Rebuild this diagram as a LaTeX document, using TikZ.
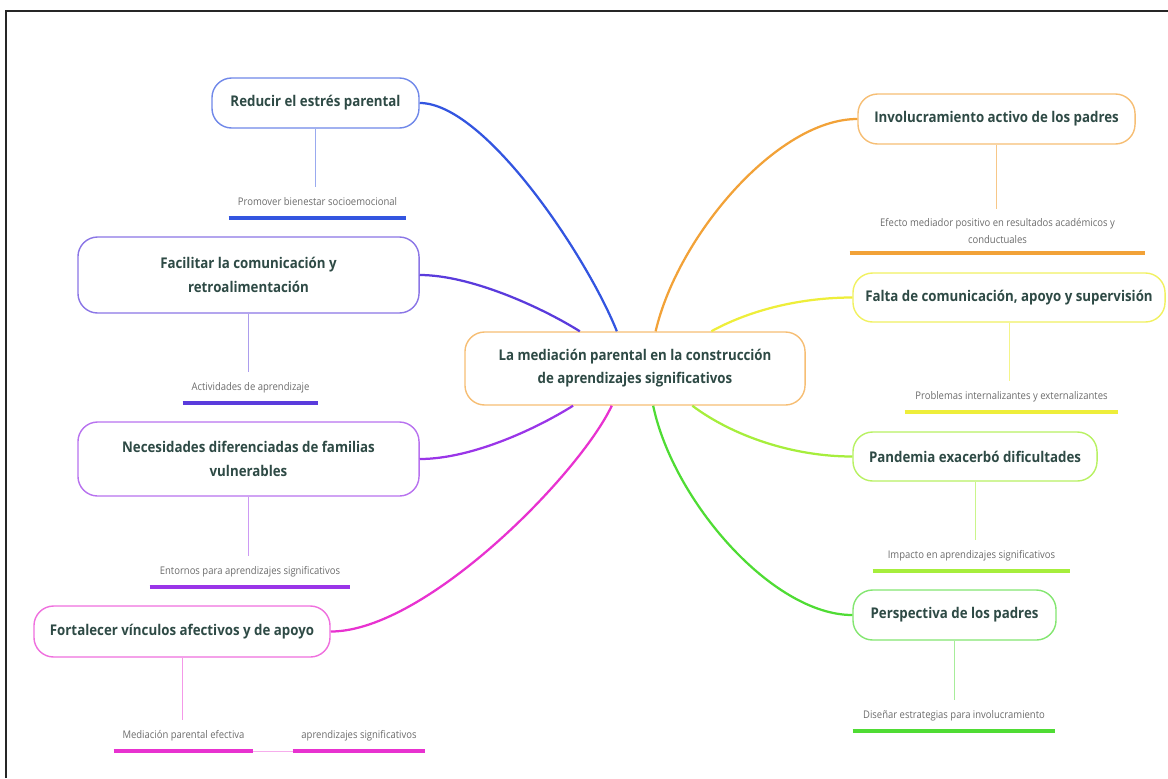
\documentclass[tikz,border=0pt]{standalone}
\usepackage{fontspec}
\setmainfont{Open Sans}[FakeStretch=0.9]
\usepackage{tikz}
\usetikzlibrary{positioning}
\definecolor{txt}{HTML}{2E4A45}
\definecolor{subtxt}{HTML}{6B6B6B}
\definecolor{cblue}{HTML}{3355E0}
\definecolor{cindigo}{HTML}{5A3BDC}
\definecolor{cpurple}{HTML}{9A35E8}
\definecolor{cmagenta}{HTML}{E832D0}
\definecolor{corange}{HTML}{F2A238}
\definecolor{cyellow}{HTML}{EEEE3A}
\definecolor{clime}{HTML}{A6EE3C}
\definecolor{cgreen}{HTML}{4FDC34}

\begin{document}
\begin{tikzpicture}[x=0.025cm,y=-0.025cm,
  topic/.style={draw,rounded corners=14pt,fill=white,line width=1pt,text=txt,font=\bfseries\fontsize{10.5}{16.5}\selectfont,align=center,inner sep=0pt},
  sub/.style={inner xsep=0pt,inner ysep=6.5pt,text=subtxt,font=\fontsize{7.5}{12}\selectfont,anchor=south,align=center},
  branch/.style={line width=1.6pt},
  stem/.style={line width=0.6pt},
  ul/.style={line width=2.2pt}]
  \useasboundingbox (0,0) rectangle (1168,778);
  \draw[line width=1.3pt,black!85] (6,778) -- (6,11) -- (1168,11);

  \node[topic,draw=corange!70,minimum width=8.5cm,minimum height=1.825cm] (c) at (635,368.5) {La mediación parental en la construcción\\de aprendizajes significativos};

  \node[topic,draw=cblue!70,minimum width=5.175cm,minimum height=1.25cm] (r1) at (315.5,103) {Reducir el estrés parental};
  \node[topic,draw=cindigo!70,minimum width=8.525cm,minimum height=1.9cm] (r2) at (248.5,275) {Facilitar la comunicación y\\retroalimentación};
  \node[topic,draw=cpurple!70,minimum width=8.525cm,minimum height=1.85cm] (r3) at (248.5,459) {Necesidades diferenciadas de familias\\vulnerables};
  \node[topic,draw=cmagenta!70,minimum width=7.4cm,minimum height=1.275cm] (r4) at (182,631.5) {Fortalecer vínculos afectivos y de apoyo};
  \node[topic,draw=corange!70,minimum width=6.925cm,minimum height=1.25cm] (r5) at (996.5,119) {Involucramiento activo de los padres};
  \node[topic,draw=cyellow!80,minimum width=7.8cm,minimum height=1.225cm] (r6) at (1009,297.5) {Falta de comunicación, apoyo y supervisión};
  \node[topic,draw=clime!80,minimum width=6.1cm,minimum height=1.225cm] (r7) at (975,456.5) {Pandemia exacerbó dificultades};
  \node[topic,draw=cgreen!70,minimum width=5.075cm,minimum height=1.25cm] (r8) at (954.5,615) {Perspectiva de los padres};

  \node[sub,text height=7pt,text depth=2pt,minimum width=4.425cm] (s1) at (317.5,218) {Promover bienestar socioemocional};
  \node[sub,text height=7pt,text depth=2pt,minimum width=3.375cm] (s2) at (250.5,403) {Actividades de aprendizaje};
  \node[sub,text height=7pt,text depth=2pt,minimum width=5cm] (s3) at (250,587) {Entornos para aprendizajes significativos};
  \node[sub,text height=7pt,text depth=2pt,minimum width=3.475cm] (s4) at (183.5,751) {Mediación parental efectiva};
  \node[sub,text height=7pt,text depth=2pt,minimum width=3.3cm] (s9) at (359,751) {aprendizajes significativos};
  \node[sub,minimum width=7.375cm] (s5) at (997.5,253) {Efecto mediador positivo en resultados académicos y\\conductuales};
  \node[sub,text height=7pt,text depth=2pt,minimum width=5.325cm] (s6) at (1011.5,412) {Problemas internalizantes y externalizantes};
  \node[sub,text height=7pt,text depth=2pt,minimum width=4.925cm] (s7) at (971.5,571) {Impacto en aprendizajes significativos};
  \node[sub,text height=7pt,text depth=2pt,minimum width=5.05cm] (s8) at (954,731) {Diseñar estrategias para involucramiento};

  \draw[branch,cblue] (c.116) .. controls +(-30,-75) and +(65,0) .. (r1.east);
  \draw[branch,cindigo] (c.146) .. controls +(-40,-25) and +(50,0) .. (r2.east);
  \draw[branch,cpurple] (c.211) .. controls +(-40,25) and +(50,0) .. (r3.east);
  \draw[branch,cmagenta] (c.238) .. controls +(-32,68) and +(95,0) .. (r4.east);
  \draw[branch,corange] (c.61) .. controls +(22,-95) and +(-80,0) .. (r5.west);
  \draw[branch,cyellow] (c.26) .. controls +(40,-22) and +(-50,0) .. (r6.west);
  \draw[branch,clime] (c.327) .. controls +(40,30) and +(-60,0) .. (r7.west);
  \draw[branch,cgreen] (c.296) .. controls +(20,95) and +(-80,0) .. (r8.west);

  \draw[stem,cblue!50] (r1.south) -- (r1.south |- s1.north);
  \draw[stem,cindigo!50] (r2.south) -- (r2.south |- s2.north);
  \draw[stem,cpurple!50] (r3.south) -- (r3.south |- s3.north);
  \draw[stem,cmagenta!50] (r4.south) -- (r4.south |- s4.north);
  \draw[stem,corange!60] (r5.south) -- (r5.south |- s5.north);
  \draw[stem,cyellow!60] (r6.south) -- (r6.south |- s6.north);
  \draw[stem,clime!60] (r7.south) -- (r7.south |- s7.north);
  \draw[stem,cgreen!50] (r8.south) -- (r8.south |- s8.north);
  \draw[stem,cmagenta!40] (s4.south east) -- (s9.south west);

  \draw[ul,cblue] (s1.south west) -- (s1.south east);
  \draw[ul,cindigo] (s2.south west) -- (s2.south east);
  \draw[ul,cpurple] (s3.south west) -- (s3.south east);
  \draw[ul,cmagenta] (s4.south west) -- (s4.south east);
  \draw[ul,cmagenta] (s9.south west) -- (s9.south east);
  \draw[ul,corange] (s5.south west) -- (s5.south east);
  \draw[ul,cyellow] (s6.south west) -- (s6.south east);
  \draw[ul,clime] (s7.south west) -- (s7.south east);
  \draw[ul,cgreen] (s8.south west) -- (s8.south east);
\end{tikzpicture}
\end{document}
